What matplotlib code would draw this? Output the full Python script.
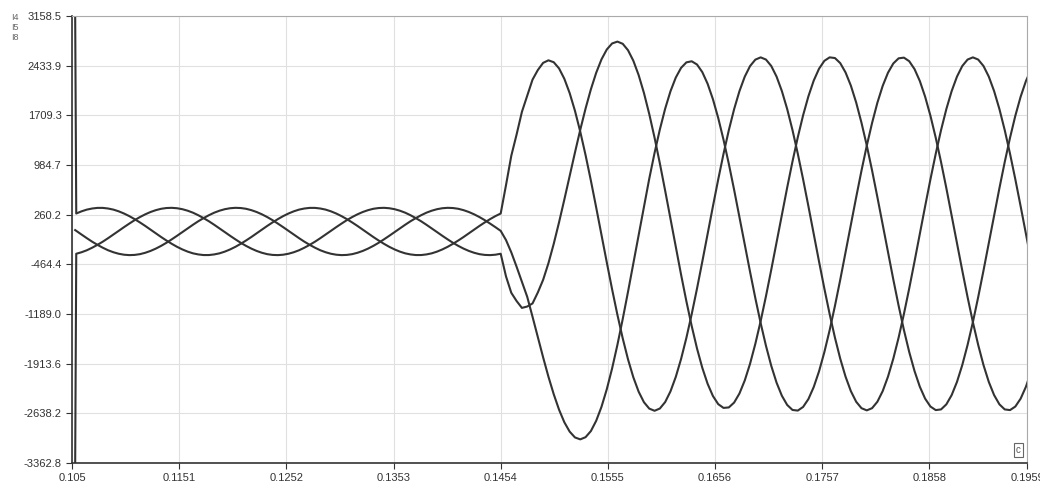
import numpy as np
import matplotlib.pyplot as plt

# sample times (s): one start-up point, then a 0.5 ms grid up to 0.1959
t_start = 0.1053
t = np.r_[t_start, 0.1054 + 0.0005 * np.arange(182)]

# start-up spike values (first sample)
i4_start, i5_start, i8_start = 3158.5, -3362.8, 35

# pre-fault samples (0.1054 .. 0.1449 s)
i4_pre = [277, 309, 334, 350, 359, 359, 350, 334, 309, 277, 239, 195, 147, 96, 42, -12, -66, -117, -165, -209,
          -247, -279, -304, -320, -329, -329, -320, -304, -279, -247, -209, -165, -117, -66, -12, 42, 96, 147, 195,
          239, 277, 309, 334, 350, 359, 359, 350, 334, 309, 277, 239, 195, 147, 96, 42, -12, -66, -117, -165, -209,
          -247, -279, -304, -320, -329, -329, -320, -304, -279, -247, -209, -165, -117, -66, -12, 42, 96, 147, 195,
          239]
i5_pre = [-310, -288, -259, -222, -180, -134, -83, -30, 24, 78, 130, 180, 225, 265, 299, 326, 346, 357, 360, 354,
          340, 318, 289, 252, 210, 164, 113, 60, 6, -48, -100, -150, -195, -235, -269, -296, -316, -327, -330,
          -324, -310, -288, -259, -222, -180, -134, -83, -30, 24, 78, 130, 180, 225, 265, 299, 326, 346, 357, 360,
          354, 340, 318, 289, 252, 210, 164, 113, 60, 6, -48, -100, -150, -195, -235, -269, -296, -316, -327, -330,
          -324]
i8_pre = [24, -30, -83, -134, -180, -222, -259, -288, -310, -324, -330, -327, -316, -296, -269, -235, -195, -150,
          -100, -48, 6, 60, 113, 164, 210, 252, 289, 318, 340, 354, 360, 357, 346, 326, 299, 265, 225, 180, 130,
          78, 24, -30, -83, -134, -180, -222, -259, -288, -310, -324, -330, -327, -316, -296, -269, -235, -195, -150,
          -100, -48, 6, 60, 113, 164, 210, 252, 289, 318, 340, 354, 360, 357, 346, 326, 299, 265, 225, 180, 130,
          78]

# fault at 0.1454 s and after (0.1454 .. 0.1959 s)
i4_post = [277, 690, 1120, 1430, 1760, 1995, 2230, 2370, 2475, 2512, 2484, 2394, 2242, 2034, 1775, 1470, 1128, 757,
           365, -36, -437, -829, -1201, -1544, -1851, -2112, -2322, -2476, -2569, -2601, -2568, -2474, -2318, -2107,
           -1845, -1537, -1192, -819, -425, -22, 381, 774, 1148, 1493, 1800, 2062, 2273, 2428, 2522, 2555, 2523,
           2429, 2274, 2063, 1801, 1494, 1149, 776, 383, -20, -423, -816, -1189, -1534, -1841, -2103, -2314, -2469,
           -2563, -2595, -2563, -2469, -2314, -2103, -1841, -1534, -1189, -816, -423, -20, 383, 776, 1149, 1494,
           1801, 2063, 2274, 2429, 2523, 2555, 2523, 2429, 2274, 2063, 1801, 1494, 1149, 776, 383, -20, -423, -816]
i5_post = [-310, -640, -880, -1000, -1100, -1080, -1035, -875, -690, -448, -165, 149, 482, 825, 1167, 1499, 1809,
           2089, 2330, 2526, 2670, 2758, 2785, 2753, 2659, 2506, 2297, 2036, 1729, 1384, 1008, 610, 201, -211, -615,
           -1003, -1364, -1691, -1974, -2207, -2385, -2504, -2559, -2552, -2481, -2349, -2159, -1915, -1623, -1292,
           -929, -542, -143, 260, 656, 1036, 1390, 1710, 1987, 2216, 2389, 2504, 2555, 2545, 2471, 2335, 2143, 1897,
           1602, 1270, 905, 516, 116, -288, -685, -1067, -1422, -1743, -2021, -2250, -2424, -2539, -2591, -2581,
           -2507, -2372, -2180, -1934, -1640, -1308, -943, -555, -155, 249, 646, 1027, 1382, 1703, 1981, 2210, 2384,
           2499]
i8_post = [24, -110, -290, -500, -720, -938, -1229, -1527, -1822, -2104, -2360, -2585, -2769, -2905, -2990, -3018,
           -2986, -2897, -2747, -2543, -2286, -1983, -1639, -1263, -864, -450, -30, 383, 784, 1160, 1503, 1806, 2060,
           2260, 2402, 2482, 2498, 2451, 2340, 2170, 1945, 1671, 1353, 1001, 622, 227, -174, -573, -959, -1322,
           -1653, -1946, -2191, -2382, -2516, -2589, -2598, -2545, -2430, -2255, -2026, -1747, -1426, -1071, -689,
           -292, 112, 513, 901, 1266, 1598, 1893, 2139, 2331, 2466, 2541, 2551, 2499, 2384, 2210, 1981, 1703, 1382,
           1027, 646, 249, -155, -555, -943, -1308, -1640, -1934, -2180, -2372, -2507, -2581, -2591, -2539, -2424,
           -2250, -2021, -1743]

i4 = np.r_[i4_start, i4_pre, i4_post]
i5 = np.r_[i5_start, i5_pre, i5_post]
i8 = np.r_[i8_start, i8_pre, i8_post]

x_ticks = [0.105, 0.1151, 0.1252, 0.1353, 0.1454, 0.1555, 0.1656, 0.1757, 0.1858, 0.1950]
x_labels = ["0.105", "0.1151", "0.1252", "0.1353", "0.1454", "0.1555", "0.1656", "0.1757", "0.1858", "0.1959"]
y_ticks = [3158.5, 2433.9, 1709.3, 984.7, 260.2, -464.4, -1189.0, -1913.6, -2638.2, -3362.8]
y_labels = ["3158.5", "2433.9", "1709.3", "984.7", "260.2", "-464.4", "-1189.0", "-1913.6", "-2638.2", "-3362.8"]
names = ["I4", "I5", "I8"]

plt.rcParams["font.family"] = ["Liberation Sans", "DejaVu Sans"]
fig = plt.figure(figsize=(10.4, 4.82), dpi=100)
ax = fig.add_axes([72 / 1040, 1 - 463 / 482, (1027 - 72) / 1040, (463 - 16) / 482])

for y in (i4, i5, i8):
    ax.plot(t, y, color="#333333", lw=1.5, solid_joinstyle="round")

ax.set_xlim(0.105, 0.1950)
ax.set_ylim(-3362.8, 3158.5)
ax.set_xticks(x_ticks)
ax.set_xticklabels(x_labels)
ax.set_yticks(y_ticks)
ax.set_yticklabels(y_labels)
ax.grid(True, color="#e0e0e0", lw=0.8)
ax.tick_params(labelsize=8, colors="#333333", length=4, width=0.8)

for side in ("top", "right"):
    ax.spines[side].set_color("#aaaaaa")
    ax.spines[side].set_linewidth(0.8)
for side in ("left", "bottom"):
    ax.spines[side].set_color("#333333")
    ax.spines[side].set_linewidth(1.2)

for i, name in enumerate(names):
    fig.text(11 / 1040, 1 - (18 + 10 * i) / 482, name, fontsize=6.5, color="#666666", va="center")

ax.text(0.991, 0.018, "c", transform=ax.transAxes, fontsize=7, color="#555555", ha="center", va="bottom",
        bbox=dict(boxstyle="square,pad=0.25", fc="white", ec="#666666", lw=0.8))

fig.savefig("out.png", dpi=100)
